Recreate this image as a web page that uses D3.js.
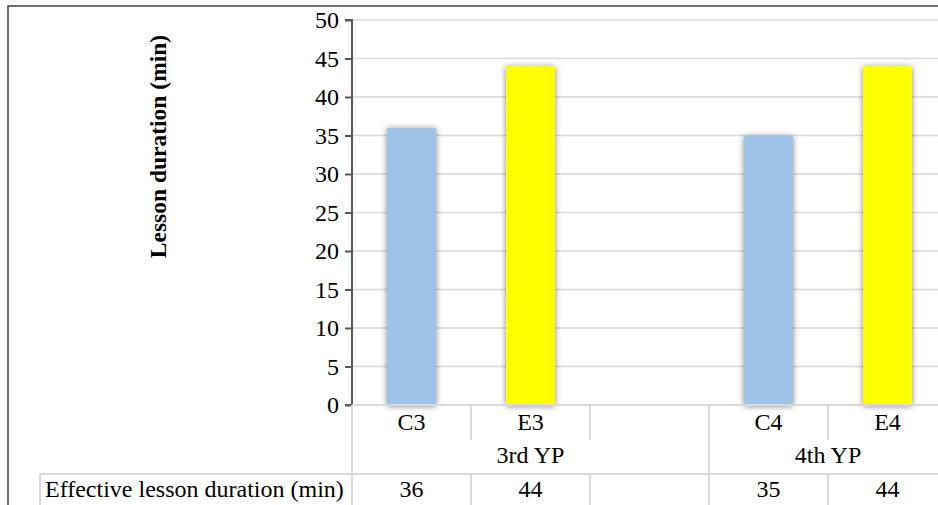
<!DOCTYPE html>
<html>
<head>
<meta charset="utf-8">
<script src="https://cdn.jsdelivr.net/npm/d3@7"></script>
<style>
  body { margin: 0; background: #fff; }
  svg { display: block; }
</style>
</head>
<body>
<svg id="chart" width="938" height="505"></svg>
<script>
// Lesson categories (the empty slot separates the two year groups)
const categories = ["C3", "E3", "", "C4", "E4"];
const durations = [36, 44, null, 35, 44];
const groupLabels = ["3rd YP", "4th YP"];
const groupSpans = [3, 2];
const yTicks = [0, 5, 10, 15, 20, 25, 30, 35, 40, 45, 50];
const yTitle = "Lesson duration (min)";
const rowLabel = "Effective lesson duration (min)";

const W = 938, H = 505;
const plotLeft = 352, plotTop = 20, plotBottom = 405, bandW = 119;
const catRowBottom = 440, groupRowBottom = 474, tableLeft = 40;
const gridColor = "#d9d9d9", axisColor = "#595959", frameColor = "#404040";
const FONT = "'Liberation Serif', 'Times New Roman', serif";
const fill = c => c.startsWith("C") ? "#9dc3e6" : "#ffff00";

const svg = d3.select("#chart").attr("font-family", FONT);

const defs = svg.append("defs");
const shadow = defs.append("filter").attr("id", "barShadow")
  .attr("x", "-40%").attr("y", "-10%").attr("width", "180%").attr("height", "120%");
shadow.append("feDropShadow").attr("dx", 0).attr("dy", 1)
  .attr("stdDeviation", 3).attr("flood-color", "#000").attr("flood-opacity", 0.5);

const x = d3.scaleBand().domain(categories)
  .range([plotLeft, plotLeft + bandW * categories.length]).paddingInner(0).paddingOuter(0);
const y = d3.scaleLinear().domain([0, 50]).range([plotBottom, plotTop]);

// outer frame (top and left edges)
svg.append("path")
  .attr("d", `M8,${H} L8,6 L${W},6`)
  .attr("fill", "none").attr("stroke", frameColor).attr("stroke-width", 1.5);

// horizontal gridlines
svg.append("g").selectAll("line").data(yTicks.filter(t => t > 0)).join("line")
  .attr("x1", plotLeft).attr("x2", W)
  .attr("y1", d => y(d)).attr("y2", d => y(d))
  .attr("stroke", gridColor).attr("stroke-width", 1.5);

// bars
const rows = categories.map((c, i) => ({ c, v: durations[i] })).filter(d => d.v != null);
const barW = x.bandwidth() * 0.41;
svg.append("g").selectAll("rect").data(rows).join("rect")
  .attr("x", d => x(d.c) + (x.bandwidth() - barW) / 2)
  .attr("y", d => y(d.v))
  .attr("width", barW)
  .attr("height", d => y(0) - y(d.v))
  .attr("fill", d => fill(d.c))
  .attr("filter", "url(#barShadow)");

// y axis
const yAxis = d3.axisLeft(y).tickValues(yTicks).tickSize(7).tickPadding(6).tickFormat(d3.format("d"));
const gy = svg.append("g").attr("transform", `translate(${plotLeft},0)`).call(yAxis)
  .attr("font-family", FONT).attr("font-size", 24);
gy.select(".domain").attr("stroke", axisColor).attr("stroke-width", 2)
  .attr("d", `M-7,${plotTop}H0V${plotBottom}H-7`);
gy.selectAll(".tick line").attr("stroke", axisColor).attr("stroke-width", 2);
gy.selectAll(".tick text").attr("fill", "#000");

// y title
svg.append("text")
  .attr("transform", `translate(166,${(plotTop + plotBottom) / 2 - 66}) rotate(-90)`)
  .attr("text-anchor", "middle").attr("font-size", 23.5).attr("font-weight", "bold")
  .attr("font-family", FONT)
  .text(yTitle);

// category table: baseline (x axis)
svg.append("line").attr("x1", plotLeft).attr("x2", W)
  .attr("y1", plotBottom).attr("y2", plotBottom)
  .attr("stroke", gridColor).attr("stroke-width", 2);

// group boundaries
const groupStarts = groupSpans.map((s, i) => d3.sum(groupSpans.slice(0, i)));
const groupBoundaryIdx = new Set(groupStarts);

const tableLines = svg.append("g").attr("stroke", gridColor).attr("stroke-width", 2);
// left edge of categories
tableLines.append("line").attr("x1", plotLeft).attr("x2", plotLeft)
  .attr("y1", plotBottom).attr("y2", H);
categories.forEach((c, i) => {
  if (i === 0) return;
  const bx = x(c);
  if (groupBoundaryIdx.has(i)) {
    tableLines.append("line").attr("x1", bx).attr("x2", bx).attr("y1", plotBottom).attr("y2", H);
  } else {
    tableLines.append("line").attr("x1", bx).attr("x2", bx).attr("y1", plotBottom).attr("y2", catRowBottom);
    tableLines.append("line").attr("x1", bx).attr("x2", bx).attr("y1", groupRowBottom).attr("y2", H);
  }
});
// data table top and left edges
tableLines.append("line").attr("x1", tableLeft).attr("x2", W)
  .attr("y1", groupRowBottom).attr("y2", groupRowBottom);
tableLines.append("line").attr("x1", tableLeft).attr("x2", tableLeft)
  .attr("y1", groupRowBottom).attr("y2", H);

const textAttrs = sel => sel.attr("font-family", FONT).attr("font-size", 24).attr("fill", "#000");

// category labels
svg.append("g").selectAll("text").data(categories).join("text")
  .attr("x", d => x(d) + x.bandwidth() / 2).attr("y", 430)
  .attr("text-anchor", "middle").call(textAttrs).text(d => d);

// group labels
svg.append("g").selectAll("text").data(groupLabels).join("text")
  .attr("x", (d, i) => x(categories[groupStarts[i]]) + bandW * groupSpans[i] / 2)
  .attr("y", 463).attr("text-anchor", "middle").call(textAttrs).text(d => d);

// data row
svg.append("text").attr("x", tableLeft + 5).attr("y", 497)
  .call(textAttrs).text(rowLabel);
svg.append("g").selectAll("text").data(categories).join("text")
  .attr("x", d => x(d) + x.bandwidth() / 2).attr("y", 497)
  .attr("text-anchor", "middle").call(textAttrs)
  .text((d, i) => durations[i] == null ? "" : durations[i]);
</script>
</body>
</html>
